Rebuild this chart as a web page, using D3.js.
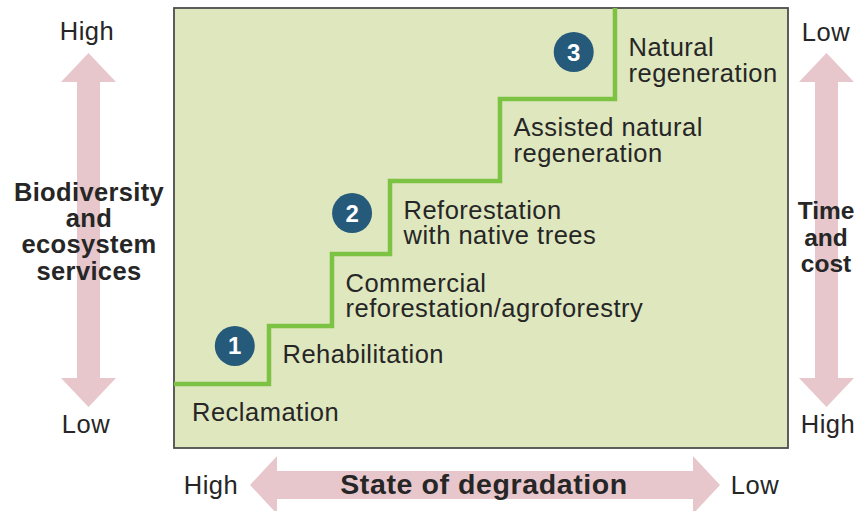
<!DOCTYPE html>
<html>
<head>
<meta charset="utf-8">
<script src="https://cdn.jsdelivr.net/npm/d3@7"></script>
<style>
  html, body { margin: 0; padding: 0; background: #ffffff; }
  svg { display: block; }
  text { font-family: "Liberation Sans", Arial, Helvetica, sans-serif; }
</style>
</head>
<body>
<svg id="chart" width="859" height="511"></svg>
<script>
// ---------- data ----------
const stages = [
  ["Reclamation"],
  ["Rehabilitation"],
  ["Commercial", "reforestation/agroforestry"],
  ["Reforestation", "with native trees"],
  ["Assisted natural", "regeneration"],
  ["Natural", "regeneration"]
];
// start of each stage along the degradation axis (0 = high degradation, 100 = low)
const stepX = [0, 15.47, 25.73, 35.18, 53.09, 71.82];
// biodiversity / ecosystem-service level of each stage (0 = low, 100 = high)
const stepY = [14.55, 27.73, 44.09, 60.68, 79.32, 100];
// numbered markers
const markerLabel = ["1", "2", "3"];
const markerX = [9.9, 29.0, 65.1];
const markerY = [23.2, 53.4, 90.0];
// axis texts
const leftAxis = { top: "High", bottom: "Low", title: ["Biodiversity", "and", "ecosystem", "services"] };
const rightAxis = { top: "Low", bottom: "High", title: ["Time", "and", "cost"] };
const bottomAxis = { left: "High", right: "Low", title: "State of degradation" };

// ---------- layout ----------
const svg = d3.select("#chart");
const box = { x0: 174, x1: 788, y0: 8, y1: 448 };
const x = d3.scaleLinear().domain([0, 100]).range([box.x0, box.x1]);
const y = d3.scaleLinear().domain([0, 100]).range([box.y1, box.y0]);

const textColor = "#262626";
const arrowColor = "#e7c7cc";
const fillColor = "#dfe7be";
const lineColor = "#7cc243";
const markerColor = "#265a7b";

// ---------- panel ----------
svg.append("rect")
  .attr("x", box.x0).attr("y", box.y0)
  .attr("width", box.x1 - box.x0).attr("height", box.y1 - box.y0)
  .attr("fill", fillColor)
  .attr("stroke", "#4d4d4d").attr("stroke-width", 1.8);

// ---------- staircase ----------
const pts = stepX.map((d, i) => [d, stepY[i]]);
const line = d3.line().x(d => x(d[0])).y(d => y(d[1])).curve(d3.curveStepAfter);
svg.append("path")
  .attr("d", line(pts))
  .attr("fill", "none")
  .attr("stroke", lineColor)
  .attr("stroke-width", 4.5)
  .attr("stroke-linejoin", "miter");

// ---------- stage labels ----------
stages.forEach((lines, i) => {
  const lx = x(stepX[i]) + (i === 0 ? 18 : 13.5);
  const ly = y(stepY[i]) + (i === 5 ? 48 : 37.5);
  const t = svg.append("text")
    .attr("x", lx).attr("y", ly)
    .attr("font-size", 25.5)
    .attr("letter-spacing", 0.5)
    .attr("fill", textColor);
  lines.forEach((s, k) => {
    t.append("tspan").attr("x", lx).attr("dy", k === 0 ? 0 : 25.5).text(s);
  });
});

// ---------- numbered markers ----------
markerLabel.forEach((lab, i) => {
  const g = svg.append("g").attr("transform", `translate(${x(markerX[i])},${y(markerY[i])})`);
  g.append("circle").attr("r", 20).attr("fill", markerColor);
  g.append("text")
    .attr("text-anchor", "middle")
    .attr("y", 8.5)
    .attr("font-size", 24)
    .attr("font-weight", "bold")
    .attr("fill", "#ffffff")
    .text(lab);
});

// ---------- double arrows ----------
function vArrow(cx, yTop, yBot, head, halfHead, halfShaft) {
  const p = [
    [cx, yTop], [cx + halfHead, yTop + head], [cx + halfShaft, yTop + head],
    [cx + halfShaft, yBot - head], [cx + halfHead, yBot - head], [cx, yBot],
    [cx - halfHead, yBot - head], [cx - halfShaft, yBot - head],
    [cx - halfShaft, yTop + head], [cx - halfHead, yTop + head]
  ];
  svg.append("path").attr("d", "M" + p.map(q => q.join(",")).join("L") + "Z").attr("fill", arrowColor);
}
function hArrow(cy, xL, xR, head, halfHead, halfShaft) {
  const p = [
    [xL, cy], [xL + head, cy - halfHead], [xL + head, cy - halfShaft],
    [xR - head, cy - halfShaft], [xR - head, cy - halfHead], [xR, cy],
    [xR - head, cy + halfHead], [xR - head, cy + halfShaft],
    [xL + head, cy + halfShaft], [xL + head, cy + halfHead]
  ];
  svg.append("path").attr("d", "M" + p.map(q => q.join(",")).join("L") + "Z").attr("fill", arrowColor);
}
vArrow(88.5, 53, 407, 29, 27.5, 11.5);
vArrow(826.5, 53, 407, 29, 27.5, 11.5);
hArrow(485, 250, 720, 27, 29, 14);

// ---------- axis texts ----------
function label(txt, cx, by, size, bold, ls) {
  svg.append("text")
    .attr("x", cx).attr("y", by)
    .attr("text-anchor", "middle")
    .attr("font-size", size)
    .attr("font-weight", bold ? "bold" : "normal")
    .attr("letter-spacing", ls || 0)
    .attr("fill", textColor)
    .text(txt);
}
label(leftAxis.top, 87, 40, 25.5, false, 0.5);
label(leftAxis.bottom, 86, 433, 25.5, false, 0.5);
leftAxis.title.forEach((s, k) => label(s, 89, 201 + k * 26.2, 25.5, true, 0.35));

label(rightAxis.top, 826, 41, 25.5, false, 0.5);
label(rightAxis.bottom, 828, 433, 25.5, false, 0.5);
rightAxis.title.forEach((s, k) => label(s, 826, 219 + k * 26.5, 24.5, true));

label(bottomAxis.left, 211, 494, 25.5, false, 0.5);
label(bottomAxis.right, 755, 494, 25.5, false, 0.5);
label(bottomAxis.title, 484, 494, 28.5, true, 0.6);
</script>
</body>
</html>
